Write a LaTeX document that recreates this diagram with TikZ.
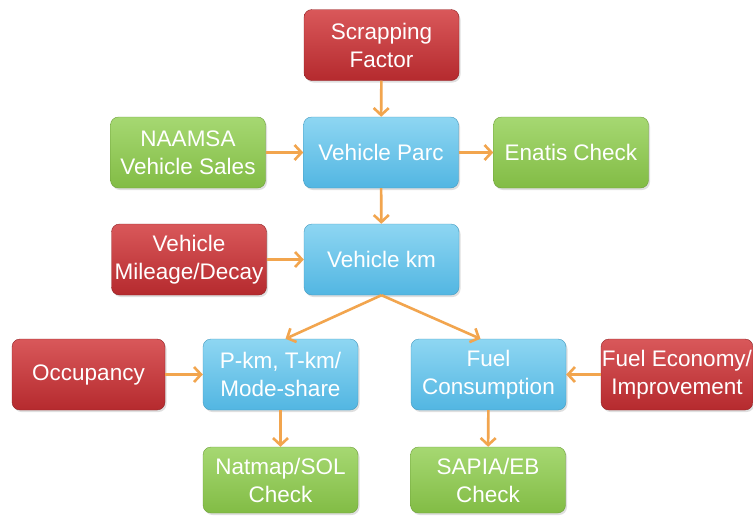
\documentclass[tikz,border=0pt]{standalone}
\usepackage{fontspec}
\setmainfont{Liberation Sans}
\usetikzlibrary{arrows.meta,shadows}
\definecolor{redtop}{HTML}{D9585A}
\definecolor{redbot}{HTML}{B52A2E}
\definecolor{greentop}{HTML}{A6D872}
\definecolor{greenbot}{HTML}{82BC45}
\definecolor{bluetop}{HTML}{8ED6F2}
\definecolor{bluebot}{HTML}{52B6E2}
\definecolor{arrowc}{HTML}{F2A54E}
\tikzset{
  box/.style={rounded corners=8pt, minimum width=155pt, minimum height=71pt,
    align=center, text=white, inner sep=0pt,
    font=\fontsize{22.5}{28}\selectfont,
    drop shadow={shadow xshift=1.5pt, shadow yshift=-2pt, opacity=0.25}},
  redbox/.style={box, top color=redtop, bottom color=redbot, draw=redbot!80!black, line width=0.4pt},
  greenbox/.style={box, top color=greentop, bottom color=greenbot, draw=greenbot!85!black, line width=0.4pt},
  bluebox/.style={box, top color=bluetop, bottom color=bluebot, draw=bluebot!85!black, line width=0.4pt},
  arr/.style={draw=arrowc, line width=2.6pt, -{Straight Barb[length=7pt,width=15pt,line width=2.6pt]}}
}
\begin{document}
\begin{tikzpicture}[x=1pt,y=-1pt]
\useasboundingbox (0,0) rectangle (753,515);
\fill[white] (0,0) rectangle (753,515);
\node[redbox] (scrap) at (381.5,45) {Scrapping\\Factor};
\node[bluebox] (parc) at (381,152.5) {Vehicle Parc};
\node[greenbox] (naamsa) at (188,152.5) {NAAMSA\\Vehicle Sales};
\node[greenbox] (enatis) at (571,152.5) {Enatis Check};
\node[redbox] (mileage) at (189,259.5) {Vehicle\\Mileage/Decay};
\node[bluebox] (vkm) at (381.5,259.5) {Vehicle km};
\node[redbox, minimum width=153pt] (occ) at (88.5,374.5) {Occupancy};
\node[bluebox] (pkm) at (280.5,374.5) {P-km, T-km/\\Mode-share};
\node[bluebox] (fuel) at (488.5,374.5) {Fuel\\Consumption};
\node[redbox, minimum width=152pt] (econ) at (677,374.5) {Fuel Economy/\\Improvement};
\node[greenbox, minimum height=66pt] (natmap) at (280.5,480) {Natmap/SOL\\Check};
\node[greenbox, minimum height=66pt] (sapia) at (488,480) {SAPIA/EB\\Check};
\draw[arr] (scrap) -- (parc);
\draw[arr] (naamsa) -- (parc);
\draw[arr] (parc) -- (enatis);
\draw[arr] (parc) -- (vkm);
\draw[arr] (mileage) -- (vkm);
\draw[arr] (vkm.south) -- ([xshift=5pt]pkm.north);
\draw[arr] (vkm.south) -- ([xshift=-8pt]fuel.north);
\draw[arr] (occ) -- (pkm);
\draw[arr] (econ) -- (fuel);
\draw[arr] (pkm) -- (natmap);
\draw[arr] (fuel) -- (sapia);
\end{tikzpicture}
\end{document}
